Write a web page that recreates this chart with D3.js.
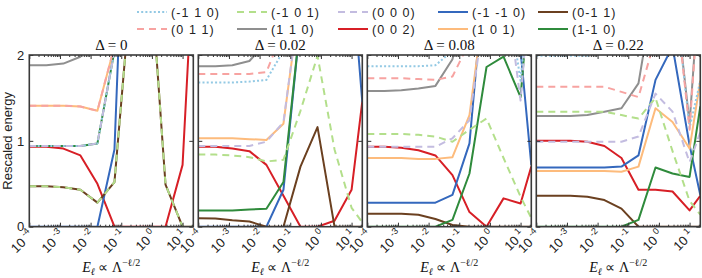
<!DOCTYPE html>
<html>
<head>
<meta charset="utf-8">
<script src="https://cdn.jsdelivr.net/npm/d3@7"></script>
<style>
  body { margin: 0; background: #fff; }
  svg { display: block; }
</style>
</head>
<body>
<div id="chart"></div>
<script>
// ---- data ----
// x points: log10 of the energy scale E_l
var logE = [-4, -3.444, -2.889, -2.333, -1.778, -1.222, -0.667, -0.111, 0.444, 1.0, 1.35];
var deltas = ["0", "0.02", "0.08", "0.22"];
var tickExp = [-4, -3, -2, -1, 0, 1];

// one row per panel (Delta = 0, 0.02, 0.08, 0.22); values above 2 are clipped
var lvl_m1_1_0 = [
  [0.94, 0.94, 0.94, 0.94, 0.97, 2.05, 3, 3, 3, 3, 3],
  [1.68, 1.68, 1.68, 1.69, 1.71, 2.05, 3, 3, 3, 3, 3],
  [1.87, 1.87, 1.87, 1.87, 1.88, 2.05, 3, 3, 3, 1.7, 3],
  [1.99, 1.99, 1.99, 1.99, 2.05, 3, 3, 3, 3, 1.15, 1.7]
];
var lvl_0_1_1 = [
  [1.41, 1.41, 1.41, 1.40, 1.35, 2.1, 3, 3, 3, 3, 3],
  [1.78, 1.78, 1.78, 1.78, 1.80, 2.3, 3, 3, 3, 3, 3],
  [1.73, 1.73, 1.73, 1.72, 1.71, 1.75, 2.15, 3, 3, 3, 3],
  [1.63, 1.63, 1.63, 1.63, 1.63, 1.57, 1.51, 2.2, 3, 1.13, 3]
];
var lvl_m1_0_1 = [
  [0.47, 0.47, 0.46, 0.43, 0.28, 0.52, 2.85, 3.3, 0.49, 0, 0],
  [0.84, 0.84, 0.83, 0.81, 0.76, 0.78, 1.35, 1.99, 0.9, 0.22, 0.05],
  [1.08, 1.08, 1.08, 1.07, 1.05, 0.99, 1.13, 1.26, 0.80, 0.35, 0.10],
  [1.34, 1.34, 1.34, 1.34, 1.34, 1.30, 1.26, 1.50, 0.88, 0.30, 0.14]
];
var lvl_1_1_0 = [
  [1.88, 1.88, 1.90, 1.98, 2.5, 3, 3, 3, 3, 3, 3],
  [1.87, 1.87, 1.88, 1.93, 2.15, 3, 3, 3, 3, 3, 3],
  [1.58, 1.58, 1.59, 1.61, 1.64, 1.95, 2.8, 3, 3, 3, 3],
  [1.29, 1.29, 1.29, 1.30, 1.34, 1.38, 1.67, 2.85, 3, 1.2, 3]
];
var lvl_0_0_0 = [
  [0.94, 0.94, 0.94, 0.94, 0.97, 2.05, 3, 3, 3, 3, 3],
  [0.94, 0.94, 0.94, 0.94, 0.99, 1.22, 2.7, 3, 3, 3, 3],
  [0.93, 0.93, 0.93, 0.93, 0.93, 1.03, 1.24, 2.7, 3, 1.47, 3],
  [0.99, 0.99, 0.99, 0.99, 0.99, 0.99, 1.05, 1.55, 1.34, 0.75, 1.1]
];
var lvl_0_0_2 = [
  [0.93, 0.93, 0.91, 0.83, 0.50, 0, 0, 0, 0, 0.72, 3.1],
  [0.93, 0.93, 0.91, 0.88, 0.72, 0.36, 0, 0, 0.07, 0.43, 1.46],
  [0.93, 0.93, 0.92, 0.89, 0.83, 0.60, 0.17, 0, 0.33, 0.27, 0.70],
  [1.0, 1.0, 1.0, 0.99, 0.94, 0.80, 0.43, 0.43, 0.41, 0.19, 0.36]
];
var lvl_m1_m1_0 = [
  [0, 0, 0, 0, 0, 0.9, 6, 6, 6, 6, 6],
  [0, 0, 0, 0, 0, 0.43, 2.4, 3, 3, 3.0, 1.45],
  [0.28, 0.28, 0.28, 0.28, 0.28, 0.37, 0.97, 3.2, 3, 2.05, 0.72],
  [0.69, 0.69, 0.69, 0.69, 0.69, 0.70, 0.83, 1.71, 2.1, 0.95, 0.37]
];
var lvl_1_0_1 = [
  [1.41, 1.41, 1.41, 1.40, 1.35, 2.1, 3, 3, 3, 3, 3],
  [1.03, 1.03, 1.03, 1.02, 1.01, 1.2, 2.7, 3, 3, 3, 3],
  [0.80, 0.80, 0.80, 0.79, 0.79, 0.81, 1.3, 2.8, 3, 3, 3],
  [0.65, 0.65, 0.65, 0.65, 0.65, 0.64, 0.70, 1.38, 1.22, 0.91, 1.7]
];
var lvl_0_m1_1 = [
  [0.47, 0.47, 0.46, 0.43, 0.28, 0.52, 2.85, 3.3, 0.49, 0, 0],
  [0.097, 0.095, 0.075, 0.06, 0, 0, 0.70, 1.16, 0, 0, 0],
  [0.15, 0.15, 0.15, 0.14, 0.09, 0.02, 0, 0, 0, 0, 0],
  [0.36, 0.36, 0.36, 0.35, 0.31, 0.21, 0, 0, 0, 0, 0]
];
var lvl_1_m1_0 = [
  [0.94, 0.94, 0.94, 0.94, 0.97, 2.05, 3, 3, 3, 3, 3],
  [0.19, 0.19, 0.19, 0.20, 0.21, 0.52, 2.4, 3, 3, 3, 3],
  [0, 0, 0, 0, 0, 0.08, 0.62, 1.86, 1.98, 1.51, 3],
  [0, 0, 0, 0, 0, 0, 0.08, 0.69, 0.62, 0.58, 1.40]
];

// series in legend (column-major) order
var seriesLabels = ["(-1 1 0)", "(0 1 1)", "(-1 0 1)", "(1 1 0)", "(0 0 0)",
                    "(0 0 2)", "(-1 -1 0)", "(1 0 1)", "(0-1 1)", "(1-1 0)"];
var seriesData = [lvl_m1_1_0, lvl_0_1_1, lvl_m1_0_1, lvl_1_1_0, lvl_0_0_0,
                  lvl_0_0_2, lvl_m1_m1_0, lvl_1_0_1, lvl_0_m1_1, lvl_1_m1_0];

// ---- styles ----
var colors = ["#93c9e4", "#f7a3a1", "#b3df8b", "#8f8f8f", "#c3bce0",
              "#d71f26", "#3468bd", "#fdbb7c", "#6b4020", "#2f8b3c"];
var dashes = ["2,2.2", "7,5", "7,5", null, "7,5", null, null, null, null, null];

var W = 702, H = 278;
var panelX = [29.3, 198.3, 367.3, 536.3];
var panelW = 164;
var yTop = 55, yBot = 226.7;

var svg = d3.select("#chart").append("svg")
  .attr("width", W)
  .attr("height", H)
  .style("font-family", "'Liberation Sans', Arial, sans-serif");

var y = d3.scaleLinear().domain([0, 2]).range([yBot, yTop]);

var line = d3.line();

// drawing order: solid lines first, then dashed / dotted on top
var order = d3.range(seriesLabels.length).filter(function(i) { return !dashes[i]; })
  .concat(d3.range(seriesLabels.length).filter(function(i) { return dashes[i]; }));

panelX.forEach(function(x0, p) {
  var x = d3.scaleLog().domain([1e-4, Math.pow(10, 1.35)]).range([x0, x0 + panelW]);
  var g = svg.append("g");

  g.append("clipPath").attr("id", "clip" + p)
    .append("rect")
    .attr("x", x0).attr("y", yTop)
    .attr("width", panelW).attr("height", yBot - yTop);

  var lines = g.append("g").attr("clip-path", "url(#clip" + p + ")");
  order.forEach(function(s) {
    var pts = logE.map(function(e, i) {
      return [x(Math.pow(10, e)), y(seriesData[s][p][i])];
    });
    lines.append("path")
      .attr("d", line(pts))
      .attr("fill", "none")
      .attr("stroke", colors[s])
      .attr("stroke-width", 2)
      .attr("stroke-dasharray", dashes[s])
      .attr("stroke-linejoin", "round");
  });

  // x ticks (inward), major and minor, top and bottom
  var major = tickExp.map(function(e) { return Math.pow(10, e); });
  var minor = [];
  tickExp.forEach(function(e) {
    for (var m = 2; m <= 9; m++) {
      var v = m * Math.pow(10, e);
      if (v < Math.pow(10, 1.35)) minor.push(v);
    }
  });

  [[d3.axisBottom, yBot], [d3.axisTop, yTop]].forEach(function(a) {
    g.append("g").attr("transform", "translate(0," + a[1] + ")")
      .call(a[0](x).tickValues(major).tickSize(-4).tickFormat(""))
      .call(function(s) { s.select(".domain").remove(); })
      .selectAll("line").attr("stroke", "#333");
    g.append("g").attr("transform", "translate(0," + a[1] + ")")
      .call(a[0](x).tickValues(minor).tickSize(-2).tickFormat(""))
      .call(function(s) { s.select(".domain").remove(); })
      .selectAll("line").attr("stroke", "#333");
  });

  // y ticks (inward) on both sides
  var yl = g.append("g").attr("transform", "translate(" + x0 + ",0)")
    .call(d3.axisLeft(y).tickValues([0, 1, 2]).tickSize(-4).tickPadding(5)
      .tickFormat(p === 0 ? d3.format("d") : ""));
  yl.select(".domain").remove();
  yl.selectAll("line").attr("stroke", "#333");
  yl.selectAll("text").attr("font-size", 13).attr("fill", "#222");
  g.append("g").attr("transform", "translate(" + (x0 + panelW) + ",0)")
    .call(d3.axisRight(y).tickValues([0, 1, 2]).tickSize(-4).tickFormat(""))
    .call(function(s) { s.select(".domain").remove(); })
    .selectAll("line").attr("stroke", "#333");

  // frame
  g.append("rect")
    .attr("x", x0).attr("y", yTop)
    .attr("width", panelW).attr("height", yBot - yTop)
    .attr("fill", "none")
    .attr("stroke", "#3a3a3a")
    .attr("stroke-width", 1.6);

  // rotated tick labels 10^n
  tickExp.forEach(function(e) {
    var tx = x(Math.pow(10, e)) + 5;
    var t = g.append("text")
      .attr("transform", "translate(" + tx + "," + (yBot + 9) + ") rotate(-45)")
      .attr("text-anchor", "end")
      .attr("font-size", 13)
      .attr("fill", "#222");
    t.append("tspan").text("10");
    t.append("tspan").attr("dx", 3).attr("dy", -6).attr("font-size", 9).text(e < 0 ? "-" + (-e) : String(e));
  });

  // title
  g.append("text")
    .attr("x", x0 + panelW / 2).attr("y", 50)
    .attr("text-anchor", "middle")
    .attr("font-family", "'Liberation Serif', 'Times New Roman', serif")
    .attr("font-size", 15)
    .attr("fill", "#111")
    .text("\u0394 = " + deltas[p]);

  // x label
  var xl = g.append("text")
    .attr("x", x0 + panelW / 2).attr("y", 272)
    .attr("text-anchor", "middle")
    .attr("font-family", "'Liberation Serif', 'Times New Roman', serif")
    .attr("font-size", 14)
    .attr("fill", "#111");
  xl.append("tspan").attr("font-style", "italic").text("E");
  xl.append("tspan").attr("dy", 3).attr("font-size", 10).attr("font-style", "italic").text("\u2113");
  xl.append("tspan").attr("dy", -3).text(" \u221D \u039B");
  xl.append("tspan").attr("dy", -6).attr("font-size", 10).text("\u2212\u2113/2");
});

// y label
svg.append("text")
  .attr("transform", "translate(12," + ((yTop + yBot) / 2) + ") rotate(-90)")
  .attr("text-anchor", "middle")
  .attr("font-size", 13)
  .attr("fill", "#222")
  .text("Rescaled energy");

// ---- legend: 2 rows x 5 columns, filled column-wise ----
var legX = [137, 237, 338, 438, 538];
var legY = [12, 29];
seriesLabels.forEach(function(lab, i) {
  var col = Math.floor(i / 2), row = i % 2;
  var lx = legX[col], ly = legY[row];
  svg.append("line")
    .attr("x1", lx).attr("x2", lx + 30)
    .attr("y1", ly).attr("y2", ly)
    .attr("stroke", colors[i])
    .attr("stroke-width", 2)
    .attr("stroke-dasharray", dashes[i]);
  svg.append("text")
    .attr("x", lx + 34).attr("y", ly + 4.5)
    .attr("font-size", 12.5)
    .attr("letter-spacing", 1.1)
    .attr("fill", "#222")
    .text(lab);
});
</script>
</body>
</html>
